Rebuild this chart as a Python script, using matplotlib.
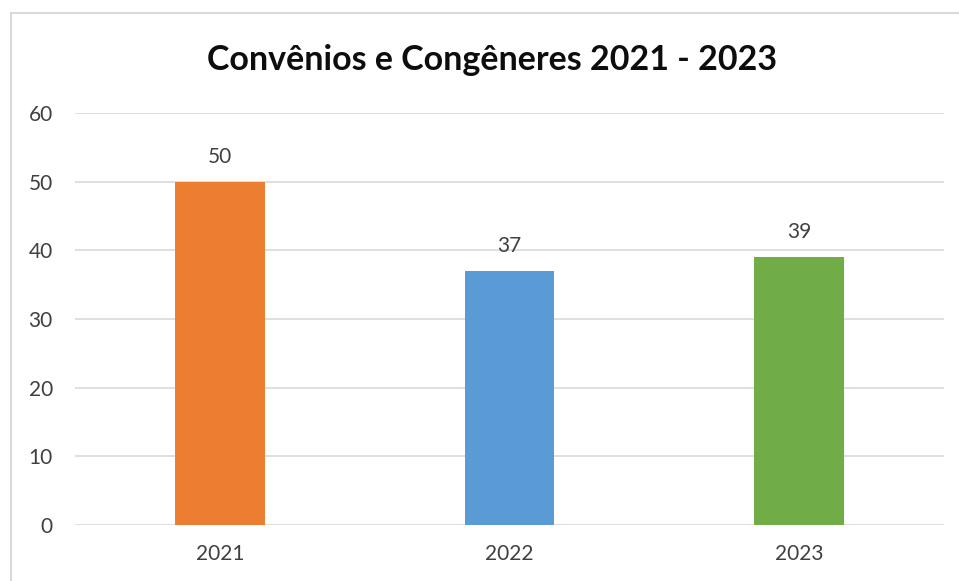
import matplotlib
matplotlib.use("Agg")
import matplotlib.pyplot as plt
from matplotlib.patches import Rectangle

# data
years = ["2021", "2022", "2023"]
values = [50, 37, 39]
colors = ["#ED7D31", "#5B9BD5", "#70AD47"]
yticks = [0, 10, 20, 30, 40, 50, 60]
title = "Convênios e Congêneres 2021 - 2023"


def main():
    plt.rcParams['font.family'] = ['Lato', 'DejaVu Sans']
    W, H = 959, 581
    fig = plt.figure(figsize=(W / 100, H / 100), dpi=100)
    fig.patch.set_facecolor("white")

    # chart border (Excel style)
    fig.patches.append(Rectangle((11 / W, -0.1), 1.0, 1.1 - 13 / H,
                                 transform=fig.transFigure, fill=False,
                                 edgecolor="#D9D9D9", linewidth=1.5))

    ax = fig.add_axes([75 / W, 56 / H, (944 - 75) / W, (525 - 113) / H])
    x = list(range(len(years)))
    bars = ax.bar(x, values, width=0.31, color=colors, zorder=3)
    for b, v in zip(bars, values):
        ax.text(b.get_x() + b.get_width() / 2, v + 3.6, str(v),
                ha="center", va="center", fontsize=15, color="#404040")

    ax.set_xlim(-0.5, 2.5)
    ax.set_ylim(0, 60)
    ax.set_yticks(yticks)
    ax.set_xticks(x)
    ax.set_xticklabels(years)
    ax.grid(axis="y", color="#D9D9D9", linewidth=1.2, zorder=0)
    for s in ax.spines.values():
        s.set_visible(False)
    ax.tick_params(axis="both", length=0, labelsize=15, labelcolor="#404040")
    ax.tick_params(axis="y", pad=16)
    ax.tick_params(axis="x", pad=14)

    fig.text(492 / W, 1 - 60 / H, title, ha="center", va="center",
             fontsize=24.5, fontweight="bold", color="#0D0D0D")

    fig.savefig("out.png", dpi=100)


if __name__ == '__main__':
    main()
